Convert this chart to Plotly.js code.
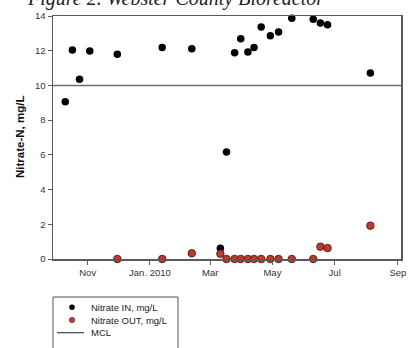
<!DOCTYPE html>
<html>
<head>
<meta charset="utf-8">
<script src="https://cdn.plot.ly/plotly-3.0.1.min.js"></script>
<style>html,body{margin:0;padding:0;background:#fff;}#chart{width:416px;height:348px;}</style>
</head>
<body>
<div id="chart"></div>
<script>
// ---- data ----
const inDates = ['2009-10-10','2009-10-17','2009-10-24','2009-11-03','2009-11-30','2010-01-13','2010-02-11','2010-03-11','2010-03-17','2010-03-25','2010-03-31','2010-04-07','2010-04-13','2010-04-20','2010-04-29','2010-05-07','2010-05-20','2010-06-10','2010-06-17','2010-06-24','2010-08-05'];
const inValues = [9.06,12.04,10.35,11.98,11.79,12.19,12.11,0.62,6.16,11.88,12.69,11.92,12.19,13.36,12.86,13.08,13.87,13.81,13.60,13.50,10.71];
const outDates = ['2009-11-30','2010-01-13','2010-02-11','2010-03-11','2010-03-17','2010-03-25','2010-03-31','2010-04-07','2010-04-13','2010-04-20','2010-04-29','2010-05-07','2010-05-20','2010-06-10','2010-06-17','2010-06-24','2010-08-05'];
const outValues = [0,0,0.33,0.30,0,0,0,0,0,0,0,0,0,0,0.71,0.63,1.92];
const mclValue = 10;
const xRange = ['2009-09-28','2010-09-04'];
const tickDates = ['2009-11-01','2010-01-01','2010-03-01','2010-05-01','2010-07-01','2010-09-01'];
const tickLabels = ['Nov','Jan. 2010','Mar','May','Jul','Sep'];
const yTicks = [0,2,4,6,8,10,12,14];
const seriesNames = ['Nitrate IN, mg/L','Nitrate OUT, mg/L','MCL'];
const titleText = 'Figure 2. Webster County Bioreactor';
const yTitle = 'Nitrate-N, mg/L';

// ---- layout helpers (pixel -> paper) ----
const W = 416, H = 348;
const px = v => v / W;
const py = v => 1 - v / H;

const black = '#000000';
const red = '#c0392b';
const redEdge = '#6e1a12';
const axisCol = '#5a5a5a';
const font = 'Liberation Sans, Arial, sans-serif';

const traces = [
  {x: xRange, y: [mclValue, mclValue], mode: 'lines', line: {color: '#6f6f6f', width: 1.5}, hoverinfo: 'skip', cliponaxis: false},
  {x: inDates, y: inValues, mode: 'markers', marker: {color: black, size: 7.5}, cliponaxis: false},
  {x: outDates, y: outValues, mode: 'markers', marker: {color: red, size: 7.5, line: {color: redEdge, width: 1}}, cliponaxis: false},
  // legend keys (on auxiliary legend axes)
  {x: [72], y: [0], xaxis: 'x2', yaxis: 'y2', mode: 'markers', marker: {color: black, size: 5.5}, cliponaxis: false},
  {x: [72], y: [1], xaxis: 'x2', yaxis: 'y2', mode: 'markers', marker: {color: red, size: 5.5, line: {color: redEdge, width: 0.5}}, cliponaxis: false},
  {x: [57, 84], y: [2, 2], xaxis: 'x2', yaxis: 'y2', mode: 'lines', line: {color: '#444', width: 1.2}, cliponaxis: false}
];

const layout = {
  width: W, height: H,
  margin: {l: 0, r: 0, t: 0, b: 0},
  paper_bgcolor: '#fff', plot_bgcolor: '#fff',
  showlegend: false,
  font: {family: font, size: 9, color: '#333'},
  xaxis: {
    domain: [px(53), px(401)],
    type: 'date', range: xRange,
    tickvals: tickDates, ticktext: tickLabels,
    showgrid: false, zeroline: false,
    showline: true, linecolor: axisCol, linewidth: 1.5, mirror: true,
    ticks: 'outside', ticklen: 4, tickwidth: 1, tickcolor: axisCol,
    tickfont: {family: font, size: 9.5, color: '#333'},
    automargin: false
  },
  yaxis: {
    domain: [py(259), py(16)],
    range: [0, 14],
    tickvals: yTicks,
    showgrid: false, zeroline: false,
    showline: true, linecolor: axisCol, linewidth: 1.5, mirror: true,
    ticks: 'outside', ticklen: 4, tickwidth: 1, tickcolor: axisCol,
    tickfont: {family: font, size: 9.5, color: '#333'},
    automargin: false
  },
  xaxis2: {domain: [px(53), px(178)], range: [53, 178], visible: false, anchor: 'y2', fixedrange: true},
  yaxis2: {domain: [py(339), py(301)], range: [2.5, -0.5], visible: false, anchor: 'x2', fixedrange: true},
  shapes: [
    {type: 'rect', xref: 'paper', yref: 'paper', x0: px(53), x1: px(178), y0: py(297), y1: py(360),
     line: {color: '#555', width: 1}, fillcolor: 'rgba(0,0,0,0)'}
  ],
  annotations: [
    {text: titleText, xref: 'paper', yref: 'paper', x: px(175), y: py(12), xanchor: 'center', yanchor: 'bottom',
     showarrow: false, font: {family: 'Liberation Serif, Times New Roman, serif', size: 20, color: '#222', style: 'italic'}},
    {text: '<b>' + yTitle + '</b>', xref: 'paper', yref: 'paper', x: px(20), y: py(137), textangle: -90,
     xanchor: 'center', yanchor: 'middle', showarrow: false, font: {family: font, size: 11.5, color: '#111'}},
    {text: seriesNames[0], xref: 'x2', yref: 'y2', x: 89, y: 0, xanchor: 'left', yanchor: 'middle', showarrow: false, font: {family: font, size: 9.5, color: '#222'}},
    {text: seriesNames[1], xref: 'x2', yref: 'y2', x: 89, y: 1, xanchor: 'left', yanchor: 'middle', showarrow: false, font: {family: font, size: 9.5, color: '#222'}},
    {text: seriesNames[2], xref: 'x2', yref: 'y2', x: 89, y: 2, xanchor: 'left', yanchor: 'middle', showarrow: false, font: {family: font, size: 9.5, color: '#222'}}
  ]
};

Plotly.newPlot('chart', traces, layout, {staticPlot: true, displayModeBar: false});
</script>
</body>
</html>
